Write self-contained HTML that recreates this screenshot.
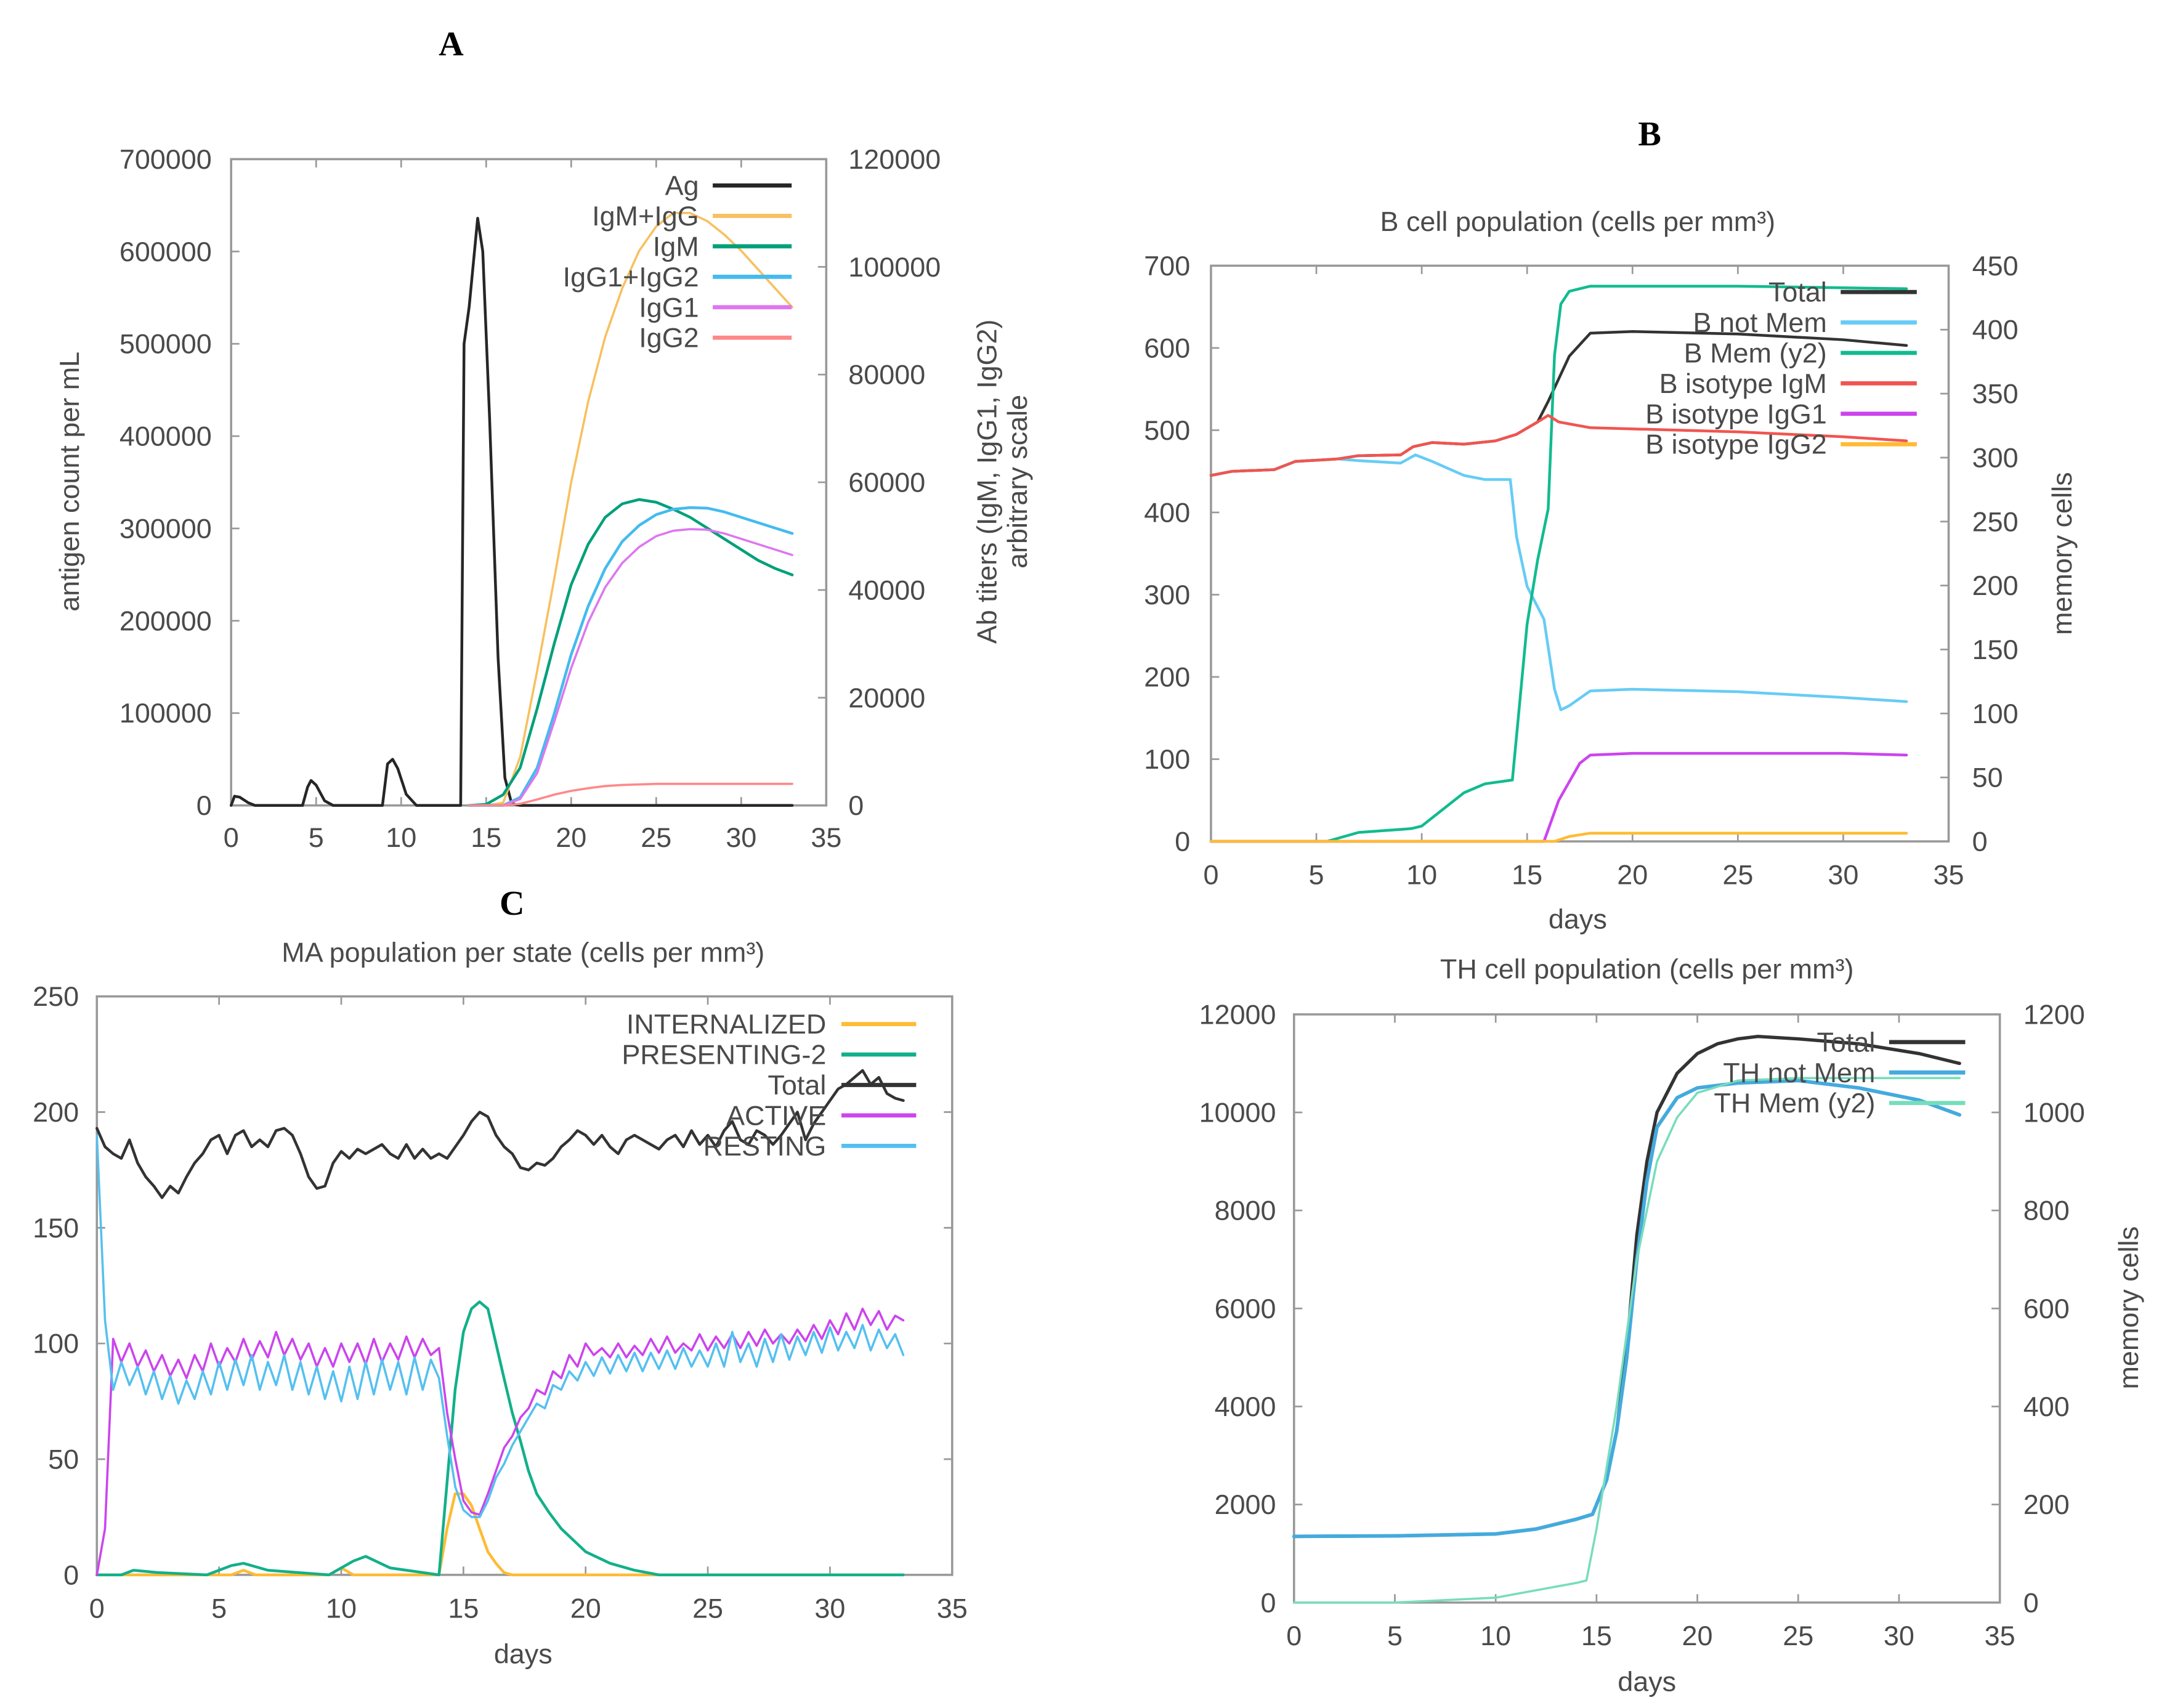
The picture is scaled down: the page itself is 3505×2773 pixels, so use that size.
<!DOCTYPE html>
<html><head><meta charset="utf-8">
<style>
html,body{margin:0;padding:0;background:#fff;}
svg{display:block;}
text{font-family:"Liberation Sans",sans-serif;fill:#4a4a4a;}
.ttl{font-family:"Liberation Serif",serif;font-weight:bold;fill:#000;}
</style></head>
<body>
<svg id="fig" xmlns="http://www.w3.org/2000/svg" width="3505" height="2773" viewBox="0 0 1560 1234.2"></svg>
<script>
// ---------- Panel A data ----------
const aAgDays = [0,0.2,0.5,1.0,1.4,4.2,4.5,4.7,5.0,5.5,6.0,8.9,9.2,9.5,9.8,10.3,10.9,13.5,13.7,14.0,14.5,14.8,15.2,15.7,16.1,16.5,17,33];
const aAgVals = [0,10000,9000,3000,0,0,20000,27000,22000,5000,0,0,45000,50000,40000,12000,0,0,500000,540000,636000,600000,420000,160000,30000,2000,0,0];
const aAbDays = [14,15,16,17,18,19,20,21,22,23,24,25,26,27,28,29,30,31,32,33];
const aIgMIgG = [0,0,500,9000,25000,42000,60000,75000,87000,96000,103000,107500,110000,110000,108500,106000,103000,99500,96000,92500];
const aIgM    = [0,200,2000,7000,18000,30000,41000,48500,53500,56000,56800,56300,55000,53500,51500,49500,47500,45500,44000,42800];
const aIgG12  = [0,0,0,1500,7000,17000,28000,37000,44000,49000,52000,54000,55000,55300,55200,54500,53500,52500,51500,50500];
const aIgG1   = [0,0,0,1200,6000,15500,25500,34000,40500,45000,48000,50000,51000,51300,51200,50500,49500,48500,47500,46500];
const aIgG2   = [0,0,0,300,1100,2000,2700,3200,3600,3800,3900,4000,4000,4000,4000,4000,4000,4000,4000,4000];
const aYLTicks = [0,100000,200000,300000,400000,500000,600000,700000];
const aYRTicks = [0,20000,40000,60000,80000,100000,120000];
// ---------- Panel B data ----------
const bTotalDays = [0,1,3,4,6,7,9,9.6,10.5,12,13.5,14.5,15.5,16,17,18,20,25,30,33];
const bTotalVals = [445,450,452,462,465,469,470,480,485,483,487,495,510,535,590,618,620,617,610,603];
const bNotMemDays = [0,1,3,4,6,7,9,9.7,10.5,12,13,14.2,14.5,15,15.8,16.3,16.6,17,18,20,25,30,33];
const bNotMemVals = [445,450,452,462,465,463,460,470,462,445,440,440,370,310,270,185,160,165,183,185,182,175,170];
const bIgMDays = [0,1,3,4,6,7,9,9.6,10.5,12,13.5,14.5,15.5,16,16.5,18,25,30,33];
const bIgMVals = [445,450,452,462,465,469,470,480,485,483,487,495,510,518,510,503,498,492,487];
const bMemDays = [0,5.5,7,9.5,10,11,12,13,14.3,14.6,15,15.5,16,16.3,16.6,17,18,25,33];
const bMemVals = [0,0,7,10,12,25,38,45,48,100,170,220,260,380,420,430,434,434,432];
const bIgG1Days = [0,15.8,16.5,17.5,18,20,30,33];
const bIgG1Vals = [0,0,50,95,105,107,107,105];
const bIgG2Days = [0,16.3,17,18,33];
const bIgG2Vals = [0,0,6,10,10];
const bYLTicks = [0,100,200,300,400,500,600,700];
const bYRTicks = [0,50,100,150,200,250,300,350,400,450];
// ---------- Panel C data (sampled every 1/3 day) ----------
const cActive = [0,20,102,92,100,90,97,88,95,86,93,85,95,88,100,90,98,92,102,93,101,94,105,95,102,93,100,90,98,90,100,92,100,91,102,92,100,93,103,94,102,95,98,70,50,32,27,26,35,45,55,60,68,72,80,78,88,85,95,90,100,95,98,94,100,94,99,95,102,96,103,96,100,97,104,97,103,98,104,98,105,99,106,100,104,100,106,101,108,102,110,104,113,106,115,108,114,106,112,110];
const cResting = [190,110,80,92,82,90,78,88,76,86,74,84,76,88,78,92,80,93,82,95,80,92,82,95,80,92,78,90,76,88,75,90,76,92,78,93,80,92,78,94,80,93,85,60,38,28,25,25,32,42,48,56,62,68,74,72,82,80,88,84,92,86,94,87,95,88,96,88,96,89,97,89,98,90,97,90,100,90,105,92,100,90,102,92,104,93,103,95,105,96,107,97,105,98,108,97,106,98,104,95];
const cTotal = [193,185,182,180,188,178,172,168,163,168,165,172,178,182,188,190,182,190,192,185,188,185,192,193,190,182,172,167,168,178,183,180,184,182,184,186,182,180,186,180,184,180,182,180,185,190,196,200,198,190,185,182,176,175,178,177,180,185,188,192,190,186,190,185,182,188,190,188,186,184,188,190,185,192,186,190,185,192,196,188,186,192,190,186,190,195,200,188,195,200,205,210,212,215,218,212,215,208,206,205];
const cPresDays = [0,1,1.5,2.5,4.5,5.5,6,7,9.5,10.5,11,12,14,14.33,14.66,15,15.33,15.66,16,16.33,16.66,17,17.33,17.66,18,18.5,19,19.5,20,21,22,23,33];
const cPresVals = [0,0,2,1,0,4,5,2,0,6,8,3,0,40,80,105,115,118,115,100,85,70,58,45,35,27,20,15,10,5,2,0,0];
const cIntDays = [0,5.5,6,6.5,9.5,10,10.5,14,14.33,14.66,15,15.33,15.66,16,16.33,16.66,17,33];
const cIntVals = [0,0,2,0,0,3,0,0,20,35,35,30,20,10,5,1,0,0];
const cYTicks = [0,50,100,150,200,250];
// ---------- Panel D data ----------
const dTotalDays = [0,5,10,12,14,14.8,15.5,16,16.5,17,17.5,18,19,20,21,22,23,25,28,31,33];
const dTotalVals = [1350,1360,1400,1500,1700,1800,2500,3500,5200,7500,9000,10000,10800,11200,11400,11500,11550,11500,11400,11200,11000];
const dNotMemDays = [0,5,10,12,14,14.8,15.5,16,16.5,17,17.5,18,19,20,22,25,28,31,33];
const dNotMemVals = [1350,1360,1400,1500,1700,1800,2500,3500,5000,7000,8600,9700,10300,10500,10600,10650,10500,10250,9950];
const dMemDays = [0,5,10,12,14,14.5,15,16,17,18,19,20,22,25,28,31,33];
const dMemVals = [0,0,10,25,40,45,150,400,700,900,990,1040,1065,1070,1070,1070,1070];
const dYLTicks = [0,2000,4000,6000,8000,10000,12000];
const dYRTicks = [0,200,400,600,800,1000,1200];
const xTicks = [0,5,10,15,20,25,30,35];

const FS = 20;
const NS = 'http://www.w3.org/2000/svg';
const fig = document.getElementById('fig');
function mk(tag, attrs, parent){
  const e = document.createElementNS(NS, tag);
  for (const k in attrs) e.setAttribute(k, attrs[k]);
  (parent || fig).appendChild(e);
  return e;
}
function txt(s, x, y, anchor, size, parent, extra){
  const t = mk('text', Object.assign({x:x, y:y, 'text-anchor':anchor, 'font-size':size, 'dominant-baseline':'central'}, extra || {}), parent);
  t.textContent = s;
  return t;
}
function makePanel(p){
  const g = mk('g', {});
  
  
  const X = d => p.x0 + d / 35 * (p.x1 - p.x0);
  const YL = v => p.y1 - v / p.ylMax * (p.y1 - p.y0);
  const YR = v => p.y1 - v / p.yrMax * (p.y1 - p.y0);
  const fr = mk('rect', {x:p.x0, y:p.y0, width:p.x1-p.x0, height:p.y1-p.y0, fill:'none', stroke:'#999', 'stroke-width':1.6}, g);
  
  
  xTicks.forEach(d => {
    const tk = mk('path', {d:`M${X(d)},${p.y1}v-6M${X(d)},${p.y0}v6`, stroke:'#999', 'stroke-width':1.2}, g);
    
    
    const lb = txt(String(d), X(d), p.xLabY, 'middle', FS, g);
    
    
  });
  p.ylTicks.forEach(v => {
    const tk = mk('path', {d:`M${p.x0},${YL(v)}h6` + (p.yrTicks ? '' : `M${p.x1},${YL(v)}h-6`), stroke:'#999', 'stroke-width':1.2}, g);
    
    
    const lb = txt(String(v), p.ylLabX, YL(v), 'end', FS, g);
    
    
  });
  if (p.yrTicks) p.yrTicks.forEach(v => {
    const tk = mk('path', {d:`M${p.x1},${YR(v)}h-6`, stroke:'#999', 'stroke-width':1.2}, g);
    
    
    const lb = txt(String(v), p.yrLabX, YR(v), 'start', FS, g);
    
    
  });
  p.series.forEach(s => {
    const Y = s.axis === 'r' ? YR : YL;
    let d = '';
    s.days.forEach((dd, i) => { d += (i ? 'L' : 'M') + X(dd).toFixed(2) + ',' + Y(s.vals[i]).toFixed(2); });
    const ln = mk('path', {d:d, fill:'none', stroke:s.color, 'stroke-width':s.w || 2, 'stroke-linejoin':'round', 'stroke-linecap':'round'}, g);
    
    
  });
  p.series.forEach((s, i) => {
    const y = p.legY + i * p.legDy;
    const lt = txt(s.label, p.legTX, y, 'end', FS, g);
    
    
    const ls = mk('line', {x1:p.legL1, x2:p.legL2, y1:y, y2:y, stroke:s.color, 'stroke-width':3}, g);
    
    
  });
  return g;
}
const stepDays = cTotal.map((v, i) => i / 3);

makePanel({name:'panel-a', x0:167, x1:597, y0:115, y1:582, ylMax:700000, yrMax:120000,
  ylTicks:aYLTicks, yrTicks:aYRTicks, ylLabX:153, yrLabX:613, xLabY:605,
  legTX:505, legL1:515, legL2:572, legY:134, legDy:22,
  series:[
    {id:'ag', label:'Ag', axis:'l', days:aAgDays, vals:aAgVals, color:'#262626'},
    {id:'igm-igg', label:'IgM+IgG', axis:'r', days:aAbDays, vals:aIgMIgG, color:'#f8c060', w:1.6},
    {id:'igm', label:'IgM', axis:'r', days:aAbDays, vals:aIgM, color:'#00a07a'},
    {id:'igg1-igg2', label:'IgG1+IgG2', axis:'r', days:aAbDays, vals:aIgG12, color:'#44bbee'},
    {id:'igg1', label:'IgG1', axis:'r', days:aAbDays, vals:aIgG1, color:'#dd77ee', w:1.6},
    {id:'igg2', label:'IgG2', axis:'r', days:aAbDays, vals:aIgG2, color:'#ff8888', w:1.6}
  ]});
makePanel({name:'panel-b', x0:875, x1:1408, y0:192, y1:608, ylMax:700, yrMax:450,
  ylTicks:bYLTicks, yrTicks:bYRTicks, ylLabX:860, yrLabX:1425, xLabY:632,
  legTX:1320, legL1:1330, legL2:1385, legY:211, legDy:22,
  series:[
    {id:'b-total', label:'Total', axis:'l', days:bTotalDays, vals:bTotalVals, color:'#333'},
    {id:'b-not-mem', label:'B not Mem', axis:'l', days:bNotMemDays, vals:bNotMemVals, color:'#66ccf5'},
    {id:'b-mem', label:'B Mem (y2)', axis:'r', days:bMemDays, vals:bMemVals, color:'#11bb90'},
    {id:'b-igm', label:'B isotype IgM', axis:'l', days:bIgMDays, vals:bIgMVals, color:'#f05550'},
    {id:'b-igg1', label:'B isotype IgG1', axis:'l', days:bIgG1Days, vals:bIgG1Vals, color:'#cc44ee'},
    {id:'b-igg2', label:'B isotype IgG2', axis:'l', days:bIgG2Days, vals:bIgG2Vals, color:'#ffbb33'}
  ]});
makePanel({name:'panel-c', x0:70, x1:688, y0:720, y1:1138, ylMax:250, ylTicks:cYTicks, ylLabX:57, xLabY:1162,
  legTX:597, legL1:608, legL2:662, legY:740, legDy:22,
  series:[
    {id:'internalized', label:'INTERNALIZED', axis:'l', days:cIntDays, vals:cIntVals, color:'#ffbb33'},
    {id:'presenting-2', label:'PRESENTING-2', axis:'l', days:cPresDays, vals:cPresVals, color:'#11b08a'},
    {id:'c-total', label:'Total', axis:'l', days:stepDays, vals:cTotal, color:'#333'},
    {id:'active', label:'ACTIVE', axis:'l', days:stepDays, vals:cActive, color:'#cc44ee', w:1.6},
    {id:'resting', label:'RESTING', axis:'l', days:stepDays, vals:cResting, color:'#55c0f0', w:1.6}
  ]});
makePanel({name:'panel-d', x0:935, x1:1445, y0:733, y1:1158, ylMax:12000, yrMax:1200,
  ylTicks:dYLTicks, yrTicks:dYRTicks, ylLabX:922, yrLabX:1462, xLabY:1182,
  legTX:1355, legL1:1365, legL2:1420, legY:753, legDy:22,
  series:[
    {id:'th-total', label:'Total', axis:'l', days:dTotalDays, vals:dTotalVals, color:'#333', w:2.4},
    {id:'th-not-mem', label:'TH not Mem', axis:'l', days:dNotMemDays, vals:dNotMemVals, color:'#44aadd', w:2.6},
    {id:'th-mem', label:'TH Mem (y2)', axis:'r', days:dMemDays, vals:dMemVals, color:'#77ddbb', w:1.6}
  ]});

let t;
t = txt('A', 326, 32, 'middle', 25, fig, {class:'ttl'});


t = txt('B', 1192, 97, 'middle', 25, fig, {class:'ttl'});


t = txt('C', 370, 653, 'middle', 25, fig, {class:'ttl'});


t = txt('B cell population (cells per mm³)', 1140, 160, 'middle', FS);


t = txt('MA population per state (cells per mm³)', 378, 688, 'middle', FS);


t = txt('TH cell population (cells per mm³)', 1190, 700, 'middle', FS);


t = txt('days', 1140, 664, 'middle', FS);


t = txt('days', 378, 1195, 'middle', FS);


t = txt('days', 1190, 1215, 'middle', FS);


t = txt('antigen count per mL', 50, 348, 'middle', FS, fig, {transform:'rotate(-90 50 348)'});


t = txt('Ab titers (IgM, IgG1, IgG2)', 713, 348, 'middle', FS, fig, {transform:'rotate(-90 713 348)'});


t = txt('arbitrary scale', 735, 348, 'middle', FS, fig, {transform:'rotate(-90 735 348)'});


t = txt('memory cells', 1490, 400, 'middle', FS, fig, {transform:'rotate(-90 1490 400)'});


t = txt('memory cells', 1538, 945, 'middle', FS, fig, {transform:'rotate(-90 1538 945)'});


</script>
</body></html>
